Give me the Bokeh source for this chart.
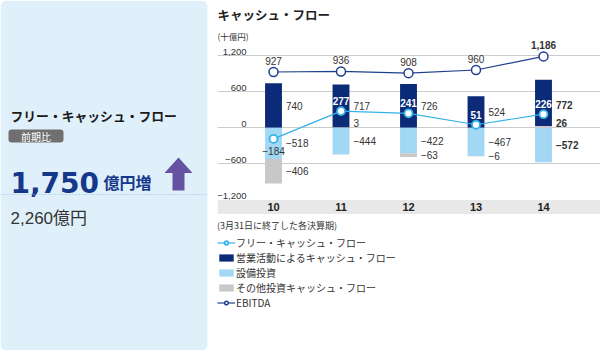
from bokeh.plotting import figure
from bokeh.models import (ColumnDataSource, Range1d, Grid, FixedTicker, BoxAnnotation,
                          LabelSet, Label, Legend, LegendItem)
from bokeh.layouts import row
from bokeh.embed import file_html
from bokeh.resources import INLINE
from bokeh.core.properties import value
import numpy as np

# ---------------- data ----------------
categories = ["10", "11", "12", "13", "14"]
operating_cf = [740, 717, 726, 524, 772]
capex = [-518, -444, -422, -467, -572]
other_investing = [-406, 3, -63, -6, 26]
free_cf = [-184, 277, 241, 51, 226]
ebitda = [927, 936, 908, 960, 1186]
highlight = [False, False, False, False, True]
y_ticks = [-1200, -600, 0, 600, 1200]
y_tick_labels = ["−1,200", "−600", "0", "600", "1,200"]

chart_title = "キャッシュ・フロー"
unit_note = "(十億円)"
legend_title = "(3月31日に終了した各決算期)"
legend_labels = ["フリー・キャッシュ・フロー", "営業活動によるキャッシュ・フロー",
                 "設備投資", "その他投資キャッシュ・フロー", "EBITDA"]

headline = "フリー・キャッシュ・フロー"
badge = "前期比"
change_value = "1,750"
change_unit = "億円増"
current_value = "2,260億円"

# ---------------- styles ----------------
NAVY = "#0b2a78"
LIGHT = "#a2d8f4"
GRAY = "#c8c8c8"
FCF_C = "#33b2e8"
EB_C = "#1f3f8f"
TXT = "#333333"
NUM_FONT_S = "Liberation Sans, Noto Sans CJK JP"
JP_FONT_S = "Noto Sans CJK JP"
NUM_FONT = value(NUM_FONT_S)
JP_FONT = value(JP_FONT_S)


def fmt(v):
    s = f"{abs(v):,}"
    return ("−" + s) if v < 0 else s


# ---------------- left panel ----------------
left = figure(width=217, height=350, x_range=Range1d(0, 217), y_range=Range1d(350, 0),
              output_backend="svg", toolbar_location=None,
              x_axis_location=None, y_axis_location=None, min_border=0,
              outline_line_color=None)
left.grid.visible = False
left.add_layout(BoxAnnotation(left=0, right=207, top=0, bottom=350, fill_color="#dff0fa",
                              fill_alpha=1, line_color=None, border_radius=6, level="underlay"))
left.add_layout(BoxAnnotation(left=8, right=63, top=129, bottom=142, fill_color="#707070",
                              fill_alpha=1, line_color=None, border_radius=3, level="underlay"))
left.text(x=[10], y=[115], text=[headline], text_font=JP_FONT, text_font_size="12.8px",
          text_font_style="bold", text_color="#1a1a1a", text_baseline="middle")
left.text(x=[35.5], y=[135.5], text=[badge], text_font=JP_FONT, text_font_size="10px",
          text_color="white", text_align="center", text_baseline="middle")
left.text(x=[10], y=[182], text=[change_value], text_font=value("DejaVu Sans"),
          text_font_size="28px", text_font_style="bold", text_color="#16388c",
          text_baseline="alphabetic")
left.text(x=[103], y=[181], text=[change_unit], text_font=JP_FONT, text_font_size="16px",
          text_font_style="bold", text_color="#16388c", text_baseline="alphabetic")
left.patch(x=[178, 192, 184, 184, 172, 172, 164], y=[157, 172.5, 172.5, 190, 190, 172.5, 172.5],
           fill_color="#6652a3", line_color=None)
left.line(x=[0, 207], y=[194, 194], line_dash="1 2", line_color="#9dbcd9", line_width=1)
left.text(x=[10], y=[218], text=[current_value], text_font=NUM_FONT, text_font_size="17px",
          text_color=TXT, text_baseline="middle")

# ---------------- chart ----------------
p = figure(width=383, height=350, x_range=Range1d(-0.8296, 4.8444),
           y_range=Range1d(-3699.3, 2114.6), output_backend="svg", toolbar_location=None,
           x_axis_location=None, y_axis_location=None, min_border=0,
           outline_line_color=None)
p.grid.visible = False

p.add_layout(Grid(dimension=1, ticker=FixedTicker(ticks=y_ticks), grid_line_color="#cccccc"))
p.add_layout(BoxAnnotation(bottom=-1432, top=-1200, fill_color="#e8e8e8", fill_alpha=1,
                           line_color=None, level="underlay"))

x = np.arange(len(categories))
op = np.array(operating_cf)
cx = np.array(capex)
ot = np.array(other_investing)
fcf = np.array(free_cf)
eb = np.array(ebitda)
hl = np.array(highlight)

W = 0.25
pos = ot > 0
neg = ot < 0
base = np.where(pos, ot, 0)
r_op = p.vbar(x=x, bottom=base, top=base + op, width=W, fill_color=NAVY, line_color=None)
r_cx = p.vbar(x=x, bottom=cx, top=0, width=W, fill_color=LIGHT, line_color=None)
r_ot = p.vbar(x=x[neg], bottom=cx[neg] + ot[neg], top=cx[neg], width=W,
              fill_color=GRAY, line_color=None)
p.vbar(x=x[pos], bottom=0, top=ot[pos], width=W, fill_color=GRAY, line_color=None)

eb_line = p.line(x, eb, line_color=EB_C, line_width=1.2)
eb_pts = p.scatter(x, eb, marker="circle", size=9, fill_color="white",
                   line_color=EB_C, line_width=1.5)
fcf_line = p.line(x, fcf, line_color=FCF_C, line_width=1.2)
fcf_pts = p.scatter(x, fcf, marker="circle", size=8, fill_color="white",
                    line_color=FCF_C, line_width=1.8)


def labels(xs, ys, vals, bold_mask, **kw):
    xs = np.asarray(xs, dtype=float)
    ys = np.asarray(ys, dtype=float)
    txt = np.array([fmt(int(v)) for v in vals])
    bm = np.asarray(bold_mask)
    for mask, style in ((~bm, "normal"), (bm, "bold")):
        if mask.any():
            p.text(x=xs[mask], y=ys[mask], text=list(txt[mask]), text_font=NUM_FONT,
                   text_font_style=style, **kw)


common = dict(text_font_size="10px", text_color=TXT)
# operating / capex / other labels (right of bar)
labels(x + W / 2, op / 2, op, hl, x_offset=4, text_baseline="middle", text_align="left", **common)
labels(x + W / 2, cx / 2, cx, hl, x_offset=4, text_baseline="middle", text_align="left", **common)
labels(x[neg] + W / 2, cx[neg] + ot[neg] / 2, ot[neg], hl[neg], x_offset=4,
       text_baseline="middle", text_align="left", **common)
labels(x[pos] + W / 2, np.zeros(pos.sum()), ot[pos], hl[pos], x_offset=4, y_offset=-5,
       text_baseline="middle", text_align="left", **common)
# EBITDA labels
labels(x, eb, eb, hl, y_offset=-11, text_baseline="middle", text_align="center", **common)
# FCF labels
fp = fcf > 0
p.text(x=x[fp], y=fcf[fp], text=[fmt(int(v)) for v in fcf[fp]], text_font=NUM_FONT,
       text_font_style="bold", text_font_size="10px", text_color="white",
       y_offset=-10, text_baseline="middle", text_align="center")
fn = fcf < 0
p.text(x=x[fn], y=fcf[fn], text=[fmt(int(v)) for v in fcf[fn]], text_font=NUM_FONT,
       text_font_size="10px", text_color=TXT, y_offset=12, text_baseline="middle",
       text_align="center")

# y tick labels
tick_src = ColumnDataSource(dict(y=y_ticks, t=y_tick_labels))
p.add_layout(LabelSet(x=29, y="y", text="t", source=tick_src, x_units="screen", y_units="data",
                      y_offset=1, text_align="right", text_baseline="bottom", text_font=NUM_FONT,
                      text_font_size="9.5px", text_color=TXT))
# category labels in band
cat_src = ColumnDataSource(dict(x=x, t=categories))
p.add_layout(LabelSet(x="x", y=144, text="t", source=cat_src, x_units="data", y_units="screen",
                      text_align="center", text_baseline="middle", text_font=NUM_FONT,
                      text_font_size="11px", text_font_style="bold", text_color="#222222"))

# titles
p.add_layout(Label(x=0, y=336, x_units="screen", y_units="screen", text=chart_title,
                   text_font=JP_FONT_S, text_font_size="12.5px", text_font_style="bold",
                   text_color="#222222", text_baseline="middle"))
p.add_layout(Label(x=0, y=315, x_units="screen", y_units="screen", text=unit_note,
                   text_font=JP_FONT_S, text_font_size="8.5px", text_color=TXT,
                   text_baseline="middle"))

legend = Legend(items=[
    LegendItem(label=legend_labels[0], renderers=[fcf_line, fcf_pts]),
    LegendItem(label=legend_labels[1], renderers=[r_op]),
    LegendItem(label=legend_labels[2], renderers=[r_cx]),
    LegendItem(label=legend_labels[3], renderers=[r_ot]),
    LegendItem(label=legend_labels[4], renderers=[eb_line, eb_pts]),
], location=(0, 40), orientation="vertical", title=legend_title,
    title_text_font=JP_FONT_S, title_text_font_size="9px", title_text_font_style="normal",
    title_text_color=TXT, title_standoff=3,
    label_text_font=JP_FONT_S, label_text_font_size="10px", label_text_color=TXT,
    glyph_width=18, glyph_height=9, label_height=9, spacing=0, padding=0, margin=0,
    label_standoff=1, border_line_color=None, background_fill_alpha=0)
p.add_layout(legend)

layout = row(left, p, spacing=0)
open("out.html", "w").write(file_html(layout, INLINE))
